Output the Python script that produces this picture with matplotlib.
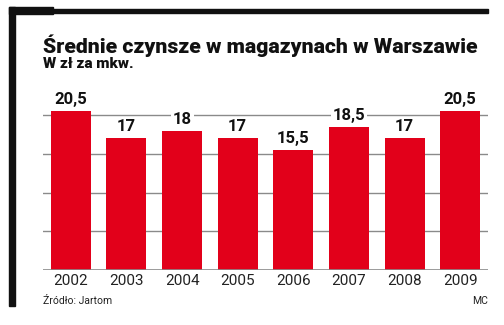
import matplotlib
matplotlib.use('Agg')
from matplotlib import pyplot as plt
from matplotlib.patches import Rectangle

years = ['2002', '2003', '2004', '2005', '2006', '2007', '2008', '2009']
rents = [20.5, 17, 18, 17, 15.5, 18.5, 17, 20.5]
labels = ['20,5', '17', '18', '17', '15,5', '18,5', '17', '20,5']

W, H = 504, 325
fig = plt.figure(figsize=(W / 100, H / 100), dpi=100)

# ramka w lewym górnym rogu
def px_rect(x0, y0, x1, y1):
    fig.patches.append(Rectangle((x0 / W, 1 - y1 / H), (x1 - x0) / W, (y1 - y0) / H,
                                 transform=fig.transFigure, color='#111111', zorder=0))

px_rect(9, 7, 15, 306)
px_rect(9, 7, 53, 14)
px_rect(15, 9, 488, 13)

ax = fig.add_axes([43 / W, 1 - 270 / H, (488 - 43) / W, 186 / H])
ax.set_xlim(-0.5, 7.5)
ax.set_ylim(0, 24)
ax.bar(range(len(years)), rents, width=0.72, color='#E2001A', zorder=2)
for y in [5, 10, 15, 20]:
    ax.axhline(y, color='#8a8a8a', lw=1, zorder=1)
ax.axhline(0, color='#8a8a8a', lw=1.2, zorder=3)

for i, (v, t) in enumerate(zip(rents, labels)):
    ax.text(i, v + 0.5, t, ha='center', va='bottom', fontsize=12, fontweight='bold',
            family='Roboto', color='#111111', zorder=4,
            bbox=dict(facecolor='white', edgecolor='none', pad=1.5))

ax.set_xticks(range(len(years)))
ax.set_xticklabels(years, fontsize=11, color='#222222', family='Roboto')
ax.tick_params(axis='x', length=0, pad=3)
ax.set_yticks([])
for s in ax.spines.values():
    s.set_visible(False)

title = fig.text(43 / W, 1 - 53 / H, 'Średnie czynsze w magazynach w Warszawie', fontsize=16,
                 fontweight='heavy', family='Roboto', color='#111111', va='baseline')
# dopasowanie wielkości tytułu do szerokości wykresu
r = fig.canvas.get_renderer()
w = title.get_window_extent(r).width
title.set_fontsize(16 * 437 / w)

fig.text(43 / W, 1 - 68 / H, 'W zł za mkw.', fontsize=11, fontweight='heavy',
         family='Roboto', color='#111111', va='baseline')
fig.text(43 / W, 1 - 304 / H, 'Źródło: Jartom', fontsize=7.5, color='#222222',
         family='Roboto', va='baseline')
fig.text(488 / W, 1 - 304 / H, 'MC', fontsize=7.5, color='#222222', family='Roboto',
         va='baseline', ha='right')

fig.savefig('out.png', dpi=100)
